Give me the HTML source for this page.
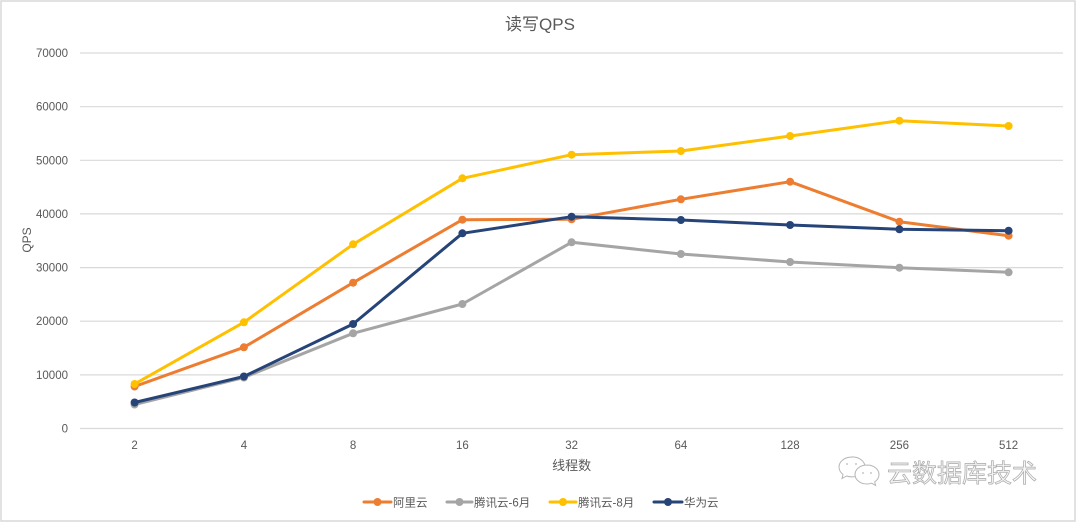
<!DOCTYPE html>
<html><head><meta charset="utf-8"><style>
html,body{margin:0;padding:0;background:#fff;}
svg{display:block;}
text{font-family:"Liberation Sans","Noto Sans CJK SC",sans-serif;fill:#595959;}
</style></head><body>
<svg width="1080" height="523" viewBox="0 0 1080 523" xmlns="http://www.w3.org/2000/svg">
<rect x="0" y="0" width="1080" height="523" fill="#fff"/>
<rect x="1" y="1" width="1074" height="520" fill="none" stroke="#d9d9d9" stroke-width="1.5"/>
<text x="540" y="30" font-size="17" text-anchor="middle">读写QPS</text>
<g stroke="#d9d9d9" stroke-width="1.2">
<line x1="80" x2="1063" y1="428.5" y2="428.5"/>
<line x1="80" x2="1063" y1="374.9" y2="374.9"/>
<line x1="80" x2="1063" y1="321.2" y2="321.2"/>
<line x1="80" x2="1063" y1="267.6" y2="267.6"/>
<line x1="80" x2="1063" y1="213.9" y2="213.9"/>
<line x1="80" x2="1063" y1="160.3" y2="160.3"/>
<line x1="80" x2="1063" y1="106.7" y2="106.7"/>
<line x1="80" x2="1063" y1="53" y2="53"/>
</g>
<g font-size="11.5" text-anchor="end">
<text x="68" y="432.5">0</text>
<text x="68" y="378.9">10000</text>
<text x="68" y="325.2">20000</text>
<text x="68" y="271.6">30000</text>
<text x="68" y="217.9">40000</text>
<text x="68" y="164.3">50000</text>
<text x="68" y="110.7">60000</text>
<text x="68" y="57">70000</text>
</g>
<g font-size="11.5" text-anchor="middle">
<text x="134.6" y="449">2</text>
<text x="243.9" y="449">4</text>
<text x="353.1" y="449">8</text>
<text x="462.4" y="449">16</text>
<text x="571.6" y="449">32</text>
<text x="680.9" y="449">64</text>
<text x="790.1" y="449">128</text>
<text x="899.4" y="449">256</text>
<text x="1008.6" y="449">512</text>
</g>
<text x="571.6" y="470" font-size="13" text-anchor="middle">线程数</text>
<text transform="translate(31,240) rotate(-90)" font-size="12" text-anchor="middle">QPS</text>

<g fill="none" stroke-width="3" stroke-linejoin="round" stroke-linecap="round">
<polyline stroke="#ED7D31" points="134.6,386.5 243.9,347.3 353.1,282.7 462.4,219.7 571.6,219.3 680.9,199.3 790.1,181.7 899.4,221.7 1008.6,235.7"/>
<polyline stroke="#A5A5A5" points="134.6,404.5 243.9,377.5 353.1,333.3 462.4,304 571.6,242.3 680.9,254 790.1,262 899.4,267.7 1008.6,272.3"/>
<polyline stroke="#FFC000" points="134.6,384 243.9,322.3 353.1,244.3 462.4,178.3 571.6,154.7 680.9,151 790.1,136 899.4,120.7 1008.6,126"/>
<polyline stroke="#264478" points="134.6,402.5 243.9,376.5 353.1,324 462.4,233.3 571.6,216.7 680.9,220 790.1,225 899.4,229.3 1008.6,230.7"/>
</g>
<g fill="#ED7D31">
<circle cx="134.6" cy="386.5" r="4"/><circle cx="243.9" cy="347.3" r="4"/><circle cx="353.1" cy="282.7" r="4"/><circle cx="462.4" cy="219.7" r="4"/><circle cx="571.6" cy="219.3" r="4"/><circle cx="680.9" cy="199.3" r="4"/><circle cx="790.1" cy="181.7" r="4"/><circle cx="899.4" cy="221.7" r="4"/><circle cx="1008.6" cy="235.7" r="4"/>
</g>
<g fill="#A5A5A5">
<circle cx="134.6" cy="404.5" r="4"/><circle cx="243.9" cy="377.5" r="4"/><circle cx="353.1" cy="333.3" r="4"/><circle cx="462.4" cy="304" r="4"/><circle cx="571.6" cy="242.3" r="4"/><circle cx="680.9" cy="254" r="4"/><circle cx="790.1" cy="262" r="4"/><circle cx="899.4" cy="267.7" r="4"/><circle cx="1008.6" cy="272.3" r="4"/>
</g>
<g fill="#FFC000">
<circle cx="134.6" cy="384" r="4"/><circle cx="243.9" cy="322.3" r="4"/><circle cx="353.1" cy="244.3" r="4"/><circle cx="462.4" cy="178.3" r="4"/><circle cx="571.6" cy="154.7" r="4"/><circle cx="680.9" cy="151" r="4"/><circle cx="790.1" cy="136" r="4"/><circle cx="899.4" cy="120.7" r="4"/><circle cx="1008.6" cy="126" r="4"/>
</g>
<g fill="#264478">
<circle cx="134.6" cy="402.5" r="4"/><circle cx="243.9" cy="376.5" r="4"/><circle cx="353.1" cy="324" r="4"/><circle cx="462.4" cy="233.3" r="4"/><circle cx="571.6" cy="216.7" r="4"/><circle cx="680.9" cy="220" r="4"/><circle cx="790.1" cy="225" r="4"/><circle cx="899.4" cy="229.3" r="4"/><circle cx="1008.6" cy="230.7" r="4"/>
</g>

<g stroke-width="3" stroke-linecap="round">
<line x1="364" x2="391" y1="502" y2="502" stroke="#ED7D31"/><circle cx="377.5" cy="502" r="4" fill="#ED7D31"/>
<line x1="447" x2="472" y1="502" y2="502" stroke="#A5A5A5"/><circle cx="459.5" cy="502" r="4" fill="#A5A5A5"/>
<line x1="550" x2="576" y1="502" y2="502" stroke="#FFC000"/><circle cx="563" cy="502" r="4" fill="#FFC000"/>
<line x1="654" x2="682" y1="502" y2="502" stroke="#264478"/><circle cx="668" cy="502" r="4" fill="#264478"/>
</g>
<g font-size="11.5">
<text x="393" y="506.5">阿里云</text>
<text x="474" y="506.5">腾讯云-6月</text>
<text x="578" y="506.5">腾讯云-8月</text>
<text x="684" y="506.5">华为云</text>
</g>

<g fill="#fff" stroke="#b5b5b5" stroke-width="1">
<path d="M852,457 c-8,0 -13,5 -13,10 c0,3 1.5,5.5 4,7.5 l-1,4 l4.5,-2.5 c1.8,0.6 3.6,0.9 5.5,0.9 c8,0 13,-5 13,-10 c0,-5 -5,-10 -13,-10z"/>
<path d="M867,465 c-7,0 -12,4.5 -12,9.5 c0,5 5,9.5 12,9.5 c1.6,0 3.2,-0.3 4.6,-0.8 l4,2.3 l-0.9,-3.6 c2.6,-1.8 4.3,-4.4 4.3,-7.4 c0,-5 -5,-9.5 -12,-9.5z"/>
</g>
<g fill="#c8c8c8">
<circle cx="847" cy="464" r="1"/><circle cx="856" cy="464" r="1"/>
<circle cx="863" cy="473" r="1"/><circle cx="871" cy="473" r="1"/>
</g>
<text x="887" y="482" font-size="25" style="fill:#f6f6f6;stroke:#a8a8a8;stroke-width:0.7" font-family="Noto Sans CJK SC, sans-serif">云数据库技术</text>
</svg>
</body></html>
